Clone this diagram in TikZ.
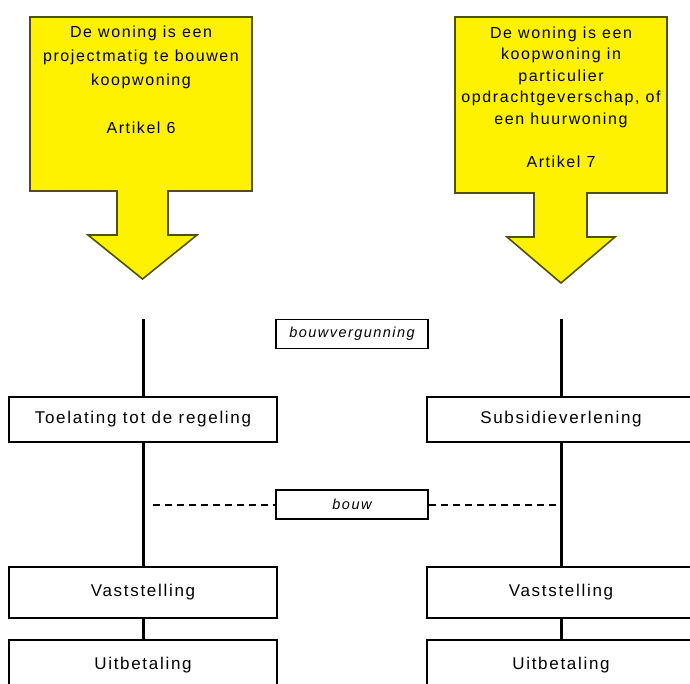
\documentclass[tikz,border=0pt]{standalone}
\usepackage{fontspec}
\newfontfamily\boxfont[LetterSpace=10]{Liberation Sans}
\definecolor{edgeolive}{RGB}{80,80,20}

\begin{document}
\begin{tikzpicture}[x=1pt,y=-1pt]
      \tikzset { stage/.style = { shape=rectangle,draw,line width=2.2pt,minimum width=268pt,minimum height=45pt,font=\boxfont\fontsize{17}{20}\selectfont } }
      \tikzset { event/.style = { shape=rectangle,draw,line width=1.5pt,minimum width=152pt,minimum height=29pt,font=\boxfont\itshape\fontsize{14.5}{17}\selectfont } }
      \tikzset { bigarrow/.style = { fill=yellow,draw=edgeolive,line width=1.6pt } }
      \tikzset { edge/.style = { line width=3pt } }
      \tikzset { wait/.style = { line width=2pt,dash pattern=on 7pt off 5pt } }

      \useasboundingbox (0,0) rectangle (690,684);

      \draw[bigarrow] (30,17) -- (252,17) -- (252,191) -- (168,191) -- (168,235) -- (197,235)
        -- (142.5,279) -- (88,235) -- (117,235) -- (117,191) -- (30,191) -- cycle;
      \draw[bigarrow] (455,17) -- (667,17) -- (667,193) -- (587,193) -- (587,237) -- (615,237)
        -- (561,283) -- (507,237) -- (534,237) -- (534,193) -- (455,193) -- cycle;

      \node[align=center,font=\boxfont\fontsize{16}{24}\selectfont] (p) at (141,80)
        {De woning is een\\projectmatig te bouwen\\koopwoning\\~\\Artikel 6};
      \node[align=center,font=\boxfont\fontsize{16}{21.5}\selectfont] (q) at (561,97)
        {De woning is een\\koopwoning in\\particulier\\opdrachtgeverschap, of\\een huurwoning\\~\\Artikel 7};

      \node[stage] (a) at (143,419.5) {Toelating tot de regeling};
      \node[stage] (b) at (561,419.5) {Subsidieverlening};
      \node[stage,minimum height=51pt] (c) at (143,592.5) {Vaststelling};
      \node[stage,minimum height=51pt] (d) at (561,592.5) {Vaststelling};
      \node[stage,minimum height=51pt] (e) at (143,665.5) {Uitbetaling};
      \node[stage,minimum height=51pt] (f) at (561,665.5) {Uitbetaling};
      \node[event] (g) at (352,334) {bouwvergunning};
      \node[event] (h) at (352,504.5) {bouw};

      \coordinate (s) at (143,319);
      \coordinate (t) at (561,319);
      \coordinate (u) at (153,504.5);
      \coordinate (v) at (556,504.5);

      \draw[edge] (s) to (a);
      \draw[edge] (a) to (c);
      \draw[edge] (c) to (e);
      \draw[edge] (t) to (b);
      \draw[edge] (b) to (d);
      \draw[edge] (d) to (f);
      \draw[wait] (u) to (h);
      \draw[wait] (h) to (v);

    \end{tikzpicture}
\end{document}
